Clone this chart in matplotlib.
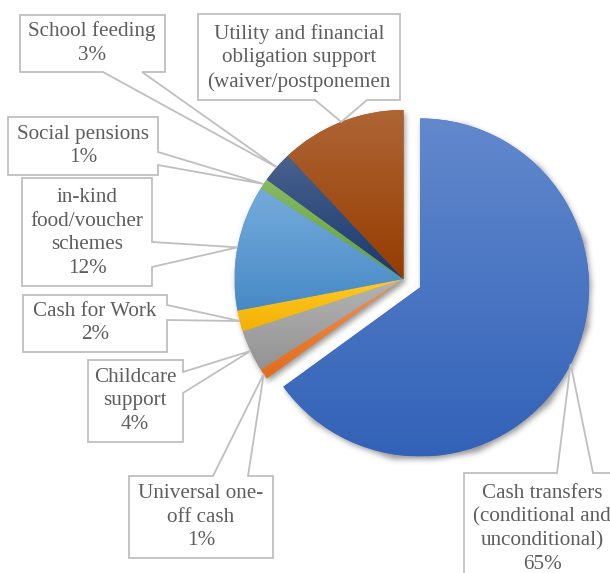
import numpy as np
import matplotlib
matplotlib.use("Agg")
import matplotlib.pyplot as plt
from matplotlib.patches import Polygon
from matplotlib.colors import to_rgb

# ---------------- data ----------------
categories = [
    "Cash transfers (conditional and unconditional)",
    "Universal one-off cash",
    "Childcare support",
    "Cash for Work",
    "in-kind food/voucher schemes",
    "Social pensions",
    "School feeding",
    "Utility and financial obligation support (waiver/postponement)",
]
values = [65, 1, 4, 2, 12, 1, 3, 12]
label_lines = [
    ["Cash transfers", "(conditional and", "unconditional)"],
    ["Universal one-", "off cash"],
    ["Childcare", "support"],
    ["Cash for Work"],
    ["in-kind", "food/voucher", "schemes"],
    ["Social pensions"],
    ["School feeding"],
    ["Utility and financial", "obligation support", "(waiver/postponemen"],
]
show_pct = [True, True, True, True, True, True, True, False]
colors = ["#4472C4", "#ED7D31", "#A5A5A5", "#FFC000",
          "#5B9BD5", "#70AD47", "#264478", "#9E480E"]
explode = [0.11, 0, 0, 0, 0, 0, 0, 0]

# callout layout in pixels (x0, y0, x1, y1), side of pointer, pointer base (a, b), text centre
callouts = [
    ((464, 473, 622, 640), "top", (557, 593), (542, 529)),
    ((129, 476, 273, 558), "top", (213, 248), (201, 517)),
    ((88, 360, 183, 442), "right", (372, 393), (135, 401)),
    ((23, 295, 167, 352), "right", (305, 320), (95, 323)),
    ((22, 178, 152, 286), "right", (242, 267), (87, 233)),
    ((8, 117, 158, 175), "right", (152, 165), (83, 146)),
    ((20, 15, 165, 72), "bottom", (103, 142), (92, 43)),
    ((198, 14, 400, 100), "bottom", (315, 367), (299, 58)),
]

# ---------------- figure ----------------
W, H = 610, 573
CX, CY, R = 403.5, 279.0, 169.0

def p2d(x, y):
    return ((x - CX) / R, (CY - y) / R)

fig = plt.figure(figsize=(W / 100, H / 100), dpi=100)
ax = fig.add_axes([0, 0, 1, 1])
ax.axis("off")

wedges, _ = ax.pie(values, startangle=90, counterclock=False, explode=explode,
                   colors=colors, radius=1.0, center=(0, 0),
                   wedgeprops=dict(linewidth=0, zorder=2))

xlim = (-CX / R, (W - CX) / R)
ylim = (-(H - CY) / R, CY / R)

# ---- soft shadow ----
px = (np.arange(W) + 0.5 - CX) / R
py = (CY - (np.arange(H) + 0.5)) / R
XX, YY = np.meshgrid(px, py)
pts = np.column_stack([XX.ravel(), YY.ravel()])
mask = np.zeros(W * H)
for w in wedges:
    path = w.get_patch_transform().transform_path(w.get_path())
    mask = np.maximum(mask, path.contains_points(pts).astype(float))
mask = mask.reshape(H, W)
sig = 3.0
k = np.arange(-9, 10)
kern = np.exp(-k ** 2 / (2 * sig ** 2))
kern /= kern.sum()
blur = np.zeros_like(mask)
for i, kv in zip(k, kern):
    blur += kv * np.roll(mask, i, axis=0)
blur2 = np.zeros_like(blur)
for i, kv in zip(k, kern):
    blur2 += kv * np.roll(blur, i, axis=1)
blur2 = np.roll(np.roll(blur2, 3, axis=0), 2, axis=1)
shadow = np.zeros((H, W, 4))
shadow[..., 3] = 0.42 * blur2
ax.imshow(shadow, extent=(xlim[0], xlim[1], ylim[0], ylim[1]), origin="upper",
          zorder=1, interpolation="bilinear")

# ---- gradient fill per slice ----
for w, c in zip(wedges, colors):
    base = np.array(to_rgb(c))
    top = base + (1 - base) * 0.16
    bot = np.clip(base * 0.92 - 0.02 + (base - base.mean()) * 0.12, 0, 1)
    path = w.get_patch_transform().transform_path(w.get_path())
    ext = path.get_extents()
    n = 64
    t = np.linspace(0, 1, n)[:, None]
    grad = (top[None, :] * (1 - t) + bot[None, :] * t)[:, None, :]
    im = ax.imshow(grad, extent=(ext.x0, ext.x1, ext.y0, ext.y1), origin="upper",
                   aspect="auto", zorder=3, interpolation="bilinear")
    im.set_clip_path(w)

# ---- callouts ----
total = sum(values)
for i, w in enumerate(wedges):
    (x0, y0, x1, y1), side, (a, b), (tx, ty) = callouts[i]
    mid = np.deg2rad((w.theta1 + w.theta2) / 2)
    cxw, cyw = w.center
    tip = (cxw + w.r * np.cos(mid), cyw + w.r * np.sin(mid))
    if side == "top":
        pp = [(x0, y0), (a, y0), None, (b, y0), (x1, y0), (x1, y1), (x0, y1)]
    elif side == "right":
        pp = [(x0, y0), (x1, y0), (x1, a), None, (x1, b), (x1, y1), (x0, y1)]
    else:
        pp = [(x0, y0), (x1, y0), (x1, y1), (b, y1), None, (a, y1), (x0, y1)]
    verts = [tip if p is None else p2d(*p) for p in pp]
    ax.add_patch(Polygon(verts, closed=True, facecolor="white",
                         edgecolor="#BFBFBF", linewidth=1.3, zorder=5,
                         joinstyle="miter"))
    lines = list(label_lines[i])
    if show_pct[i]:
        lines.append(f"{values[i] / total * 100:.0f}%")
    ax.text(*p2d(tx, ty), "\n".join(lines), ha="center", va="center",
            multialignment="center", fontsize=15.2, linespacing=1.33,
            color="#5E5E5E", family=["Liberation Serif", "DejaVu Serif"],
            zorder=6)

ax.set_xlim(*xlim)
ax.set_ylim(*ylim)
ax.set_aspect("equal", adjustable="datalim")
ax.set_xlim(*xlim)
ax.set_ylim(*ylim)

fig.savefig("out.png", dpi=100)
